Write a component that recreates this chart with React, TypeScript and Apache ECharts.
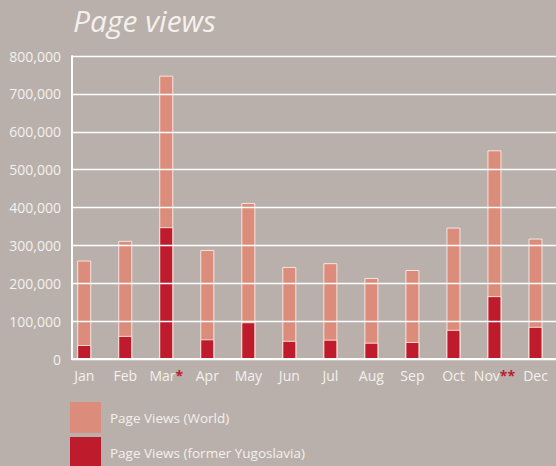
import React, { useEffect, useRef } from "react";
import * as echarts from "echarts";

const months = ["Jan", "Feb", "Mar", "Apr", "May", "Jun", "Jul", "Aug", "Sep", "Oct", "Nov", "Dec"];
const monthMarks = ["", "", "*", "", "", "", "", "", "", "", "**", ""];
const worldViews = [260000, 312000, 748000, 288000, 412000, 243000, 253000, 214000, 235000, 347000, 551000, 318000];
const yugoViews = [37000, 61000, 348000, 52000, 97000, 48000, 51000, 43000, 45000, 77000, 166000, 85000];
const seriesNames = ["Page Views (World)", "Page Views (former Yugoslavia)"];

const BG = "#b9b0ab";
const WORLD = "#dc8c7a";
const YUGO = "#be1c2d";
const TEXT = "#f4f0ed";

export default function App() {
  const ref = useRef<HTMLDivElement>(null);
  useEffect(() => {
    document.body.style.margin = "0";
    const chart = echarts.init(ref.current!, null, { renderer: "svg" });
    const labels = months.map((m, i) => (monthMarks[i] ? `${m}{s|${monthMarks[i]}}` : m));
    chart.setOption({
      animation: false,
      backgroundColor: BG,
      title: {
        text: "Page views",
        left: 68,
        top: 0,
        textStyle: { color: TEXT, fontFamily: "Open Sans", fontStyle: "italic", fontWeight: "normal", fontSize: 30 },
      },
      legend: {
        orient: "vertical",
        left: 70,
        top: 402,
        height: 70,
        padding: 0,
        itemWidth: 31,
        itemHeight: 31,
        itemGap: 4,
        icon: "rect",
        data: seriesNames,
        itemStyle: { borderWidth: 0 },
        textStyle: { color: TEXT, fontFamily: "Open Sans", fontSize: 13.5, padding: [0, 0, 0, 4] },
      },
      grid: [
        { left: 72, right: 0, top: 56, bottom: 107 },
        { left: 63.7, right: -7.9, top: 56, bottom: 107 },
      ],
      xAxis: [
        {
          type: "category",
          gridIndex: 0,
          data: months,
          axisLine: { show: true, lineStyle: { color: "#ffffff", width: 2 } },
          axisTick: { show: false },
          axisLabel: { show: false },
          splitLine: { show: false },
          z: 5,
        },
        {
          type: "category",
          gridIndex: 1,
          data: labels,
          axisLine: { show: false },
          axisTick: { show: false },
          axisLabel: {
            color: TEXT,
            fontFamily: "Open Sans",
            fontSize: 14,
            margin: 9,
            interval: 0,
            rich: { s: { color: YUGO, fontFamily: "Open Sans", fontSize: 14, fontWeight: "bold", verticalAlign: "top" } },
          },
        },
      ],
      yAxis: [
        {
          type: "value",
          gridIndex: 0,
          min: 0,
          max: 800000,
          interval: 100000,
          z: 5,
          axisLine: { show: true, lineStyle: { color: "#ffffff", width: 2 } },
          axisTick: { show: false },
          axisLabel: {
            color: TEXT,
            fontFamily: "Open Sans",
            fontSize: 14,
            margin: 11,
            formatter: (v: number) => v.toLocaleString("en-US"),
          },
          splitLine: { show: true, lineStyle: { color: "#ffffff", width: 1.3 } },
        },
        {
          type: "value",
          gridIndex: 1,
          min: 0,
          max: 800000,
          interval: 100000,
          show: false,
          splitLine: { show: false },
        },
      ],
      series: [
        {
          name: seriesNames[0],
          type: "bar",
          xAxisIndex: 1,
          yAxisIndex: 1,
          data: worldViews,
          barWidth: 14,
          barGap: "-100%",
          z: 2,
          itemStyle: { color: WORLD, borderColor: "rgba(255,240,235,0.85)", borderWidth: 1 },
        },
        {
          name: seriesNames[1],
          type: "bar",
          xAxisIndex: 1,
          yAxisIndex: 1,
          data: yugoViews,
          barWidth: 14,
          barGap: "-100%",
          z: 3,
          itemStyle: { color: YUGO, borderColor: "rgba(255,240,235,0.85)", borderWidth: 1 },
        },
      ],
    });
    return () => chart.dispose();
  }, []);
  return <div ref={ref} style={{ width: 556, height: 466 }} />;
}
